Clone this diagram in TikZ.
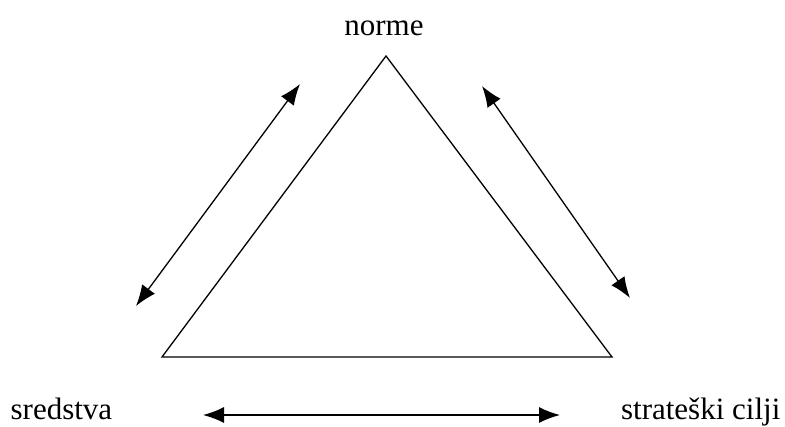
\documentclass[tikz,border=0pt]{standalone}
\usepackage{fontspec}
\setmainfont{Liberation Serif}
\usetikzlibrary{arrows.meta}

\begin{document}
\begin{tikzpicture}[x=1pt,y=-1pt,line width=1.3pt,
    lbl/.style={font=\fontsize{31}{37}\selectfont,inner sep=0pt,anchor=base},
    link/.style={{Latex[length=21pt,width=16pt]}-{Latex[length=21pt,width=16pt]}}]
    \useasboundingbox (0,0) rectangle (785,426);
    \coordinate (top) at (386,56);
    \coordinate (bl) at (162,357);
    \coordinate (br) at (612,357);
    \draw (top)--(br)--(bl)--cycle;
    \node[lbl] (norme) at (384,35) {norme};
    \node[lbl,anchor=base west] (sred) at (10,419) {sredstva};
    \node[lbl,anchor=base east] (cilj) at (781,419) {strateški cilji};
    \coordinate (l1) at (136,306); \coordinate (l2) at (300,84);
    \coordinate (r1) at (482,86); \coordinate (r2) at (630,298);
    \coordinate (b1) at (203,415); \coordinate (b2) at (560,415);
    \draw[link] (l1)--(l2); \draw[link] (r1)--(r2); \draw[link] (b1)--(b2);
  \end{tikzpicture}
\end{document}
